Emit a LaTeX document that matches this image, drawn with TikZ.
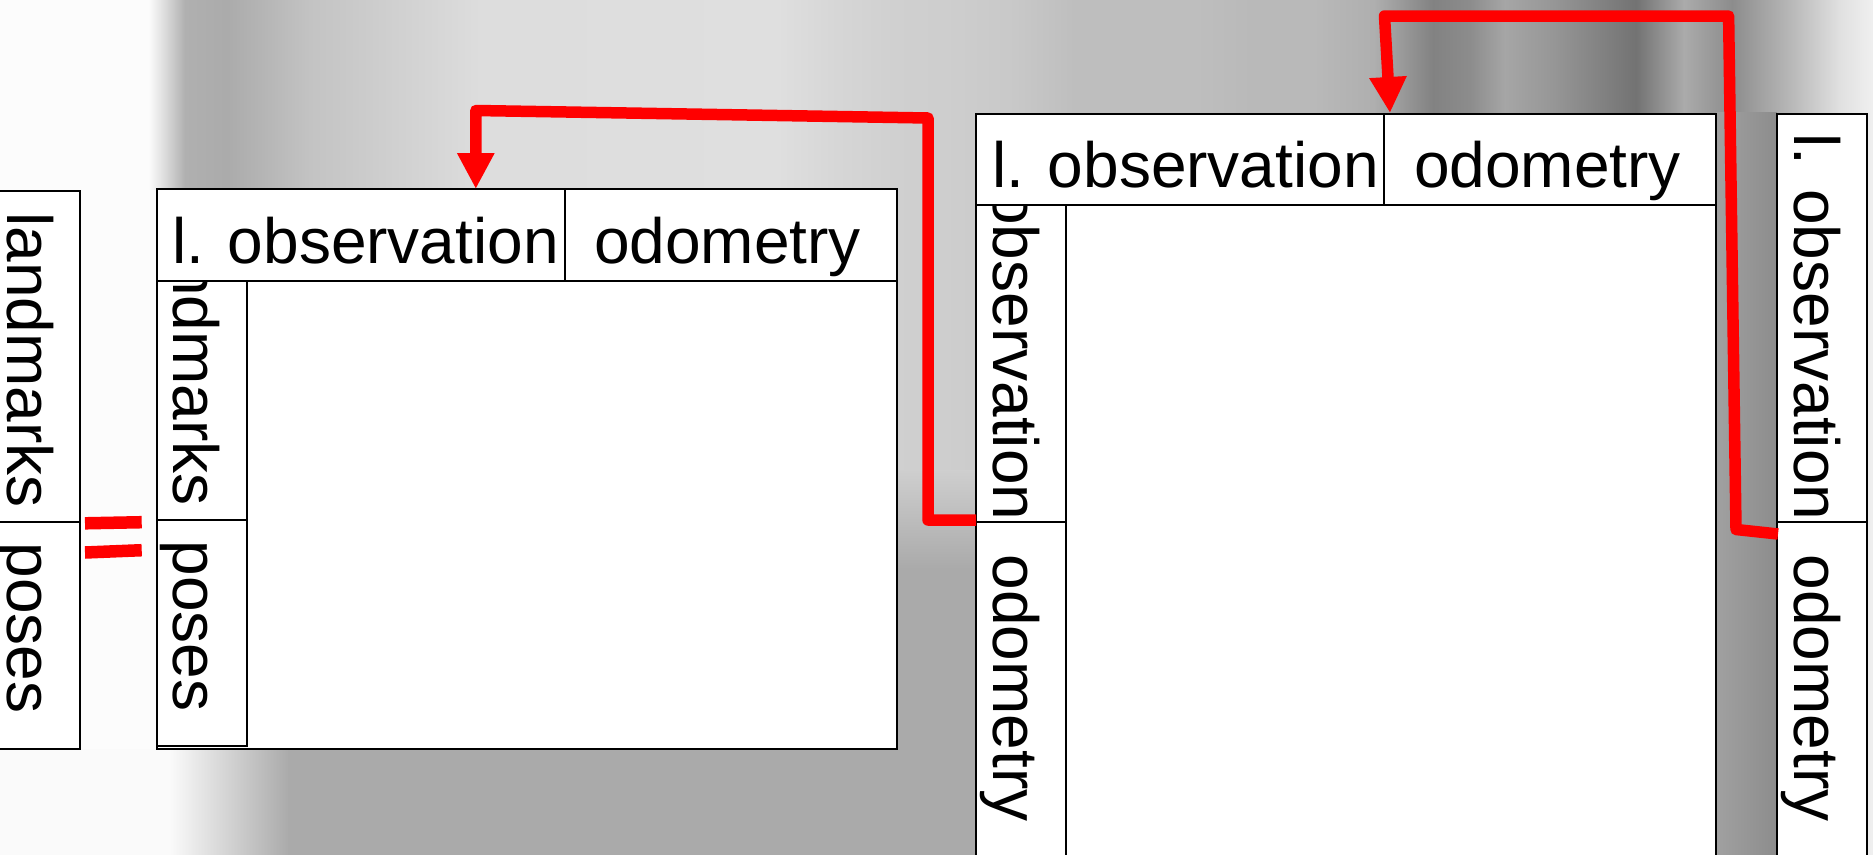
\documentclass[tikz,border=0pt]{standalone}
\usepackage{fontspec}
\setmainfont{Liberation Sans}
\usetikzlibrary{arrows.meta}

\newcommand\lblfont{\fontsize{64pt}{64pt}\selectfont}
\definecolor{lowgray}{gray}{0.665}

% blurred photograph behind the diagram: vertical streaks of grey
\pgfdeclarehorizontalshading{photoband}{854pt}{%
  color(0pt)=(black!1); color(148pt)=(black!1); color(160pt)=(black!10);
  color(185pt)=(black!31); color(227pt)=(black!33); color(263pt)=(black!29);
  color(310pt)=(black!23.5); color(394pt)=(black!18.5); color(478pt)=(black!13.5);
  color(776pt)=(black!12.5); color(836pt)=(black!16); color(896pt)=(black!18.5);
  color(956pt)=(black!19.5); color(1015pt)=(black!21.5); color(1075pt)=(black!25.5);
  color(1195pt)=(black!25.5); color(1254pt)=(black!27.5); color(1314pt)=(black!27.5);
  color(1374pt)=(black!31.5); color(1433pt)=(black!49); color(1470pt)=(black!45);
  color(1505pt)=(black!35); color(1553pt)=(black!41); color(1636pt)=(black!55);
  color(1684pt)=(black!33); color(1732pt)=(black!45); color(1792pt)=(black!27.5);
  color(1840pt)=(black!12); color(1873pt)=(black!6)}

\tikzset{
  cell/.style={draw=black, line width=2pt, fill=white, inner sep=0pt,
    outer sep=0pt, anchor=north west},
  vtext/.style={rotate=-90, anchor=base, inner sep=0pt, font=\lblfont},
  htext/.style={anchor=base, inner sep=0pt, font=\lblfont},
  link/.style={draw=red, line width=11.5pt, line join=round,
    -{Triangle[length=36pt,width=35pt]}},
  eqbar/.style={draw=red, line width=12.5pt},
}

\begin{document}
\begin{tikzpicture}[x=1pt, y=-1pt]
\useasboundingbox (0,0) rectangle (1873,854);
\clip (0,0) rectangle (1873,854);

% background
\node[inner sep=0pt, outer sep=0pt, anchor=north west] (photo) at (0,0)
  {\pgfuseshading{photoband}};
\fill[black!1] (-20,190) rectangle (157,880);
\shade[top color=black!19, bottom color=lowgray] (897,470) rectangle (976,570);
\fill[lowgray] (897,568) rectangle (976,880);
\fill[black!2] (-20,749) rectangle (172,880);
\shade[left color=black!2, right color=lowgray] (170,749) rectangle (290,880);
\fill[lowgray] (288,749) rectangle (897,880);
\shade[left color=black!37, right color=black!45] (1716,112) rectangle (1777,880);

% left strip: landmarks | poses
\node[cell, minimum width=90pt, minimum height=331.3pt] (lsA) at (-10,191) {};
\node[cell, minimum width=90pt, minimum height=226.7pt] (lsB) at (-10,522.3) {};
\node[vtext] (lsAt) at (7,360) {landmarks};
\node[vtext] (lsBt) at (7,628) {poses};

% first matrix
\node[cell, minimum width=740.5pt, minimum height=560pt] (bA) at (156.5,189) {};
\node[cell, minimum width=90.5pt, minimum height=331pt] (bAcA) at (156.5,189) {};
\node[cell, minimum width=90.5pt, minimum height=226pt] (bAcB) at (156.5,520) {};
\node[vtext] (bAcAt) at (173.5,358) {landmarks};
\node[vtext] (bAcBt) at (173.5,626) {poses};
\node[cell, minimum width=408.5pt, minimum height=92pt] (bAhA) at (156.5,189) {};
\node[cell, minimum width=332pt, minimum height=92pt] (bAhB) at (565,189) {};
\node[htext] (bAhAt) at (365.5,263.5) {l. observation};
\node[htext] (bAhBt) at (727.5,263.5) {odometry};

% second matrix
\node[cell, minimum width=740pt, minimum height=760pt] (bB) at (976,113.5) {};
\node[cell, minimum width=89.7pt, minimum height=408.5pt] (bBcA) at (976,113.5) {};
\node[cell, minimum width=89.7pt, minimum height=350pt] (bBcB) at (976,522) {};
\node[vtext] (bBcAt) at (993,327) {l. observation};
\node[vtext] (bBcBt) at (993,688) {odometry};
\node[cell, minimum width=407.5pt, minimum height=91.5pt] (bBhA) at (976,113.5) {};
\node[cell, minimum width=332.5pt, minimum height=91.5pt] (bBhB) at (1383.5,113.5) {};
\node[htext] (bBhAt) at (1185.5,187) {l. observation};
\node[htext] (bBhBt) at (1547.5,187) {odometry};

% right strip: l. observation | odometry
\node[cell, minimum width=90pt, minimum height=408.5pt] (rsA) at (1777,113.5) {};
\node[cell, minimum width=90pt, minimum height=350pt] (rsB) at (1777,522) {};
\node[vtext] (rsAt) at (1794,327) {l. observation};
\node[vtext] (rsBt) at (1794,688) {odometry};

% connectors
\coordinate (oneFrom) at (976,520);
\coordinate (oneTo) at (475.8,189);
\coordinate (twoFrom) at (1778,534);
\coordinate (twoTo) at (1390,113);
\draw[link] (oneFrom) -- (928,520) -- (928,118) -- (475.8,110.5) -- (oneTo);
\draw[link] (twoFrom) -- (1736,529.5) -- (1728.6,16) -- (1384.5,16) -- (twoTo);

% equality sign between the strip and the first matrix
\draw[eqbar] (85,523.3) -- (141.7,522.2);
\draw[eqbar] (85,552.5) -- (141.7,550.2);
\end{tikzpicture}
\end{document}
